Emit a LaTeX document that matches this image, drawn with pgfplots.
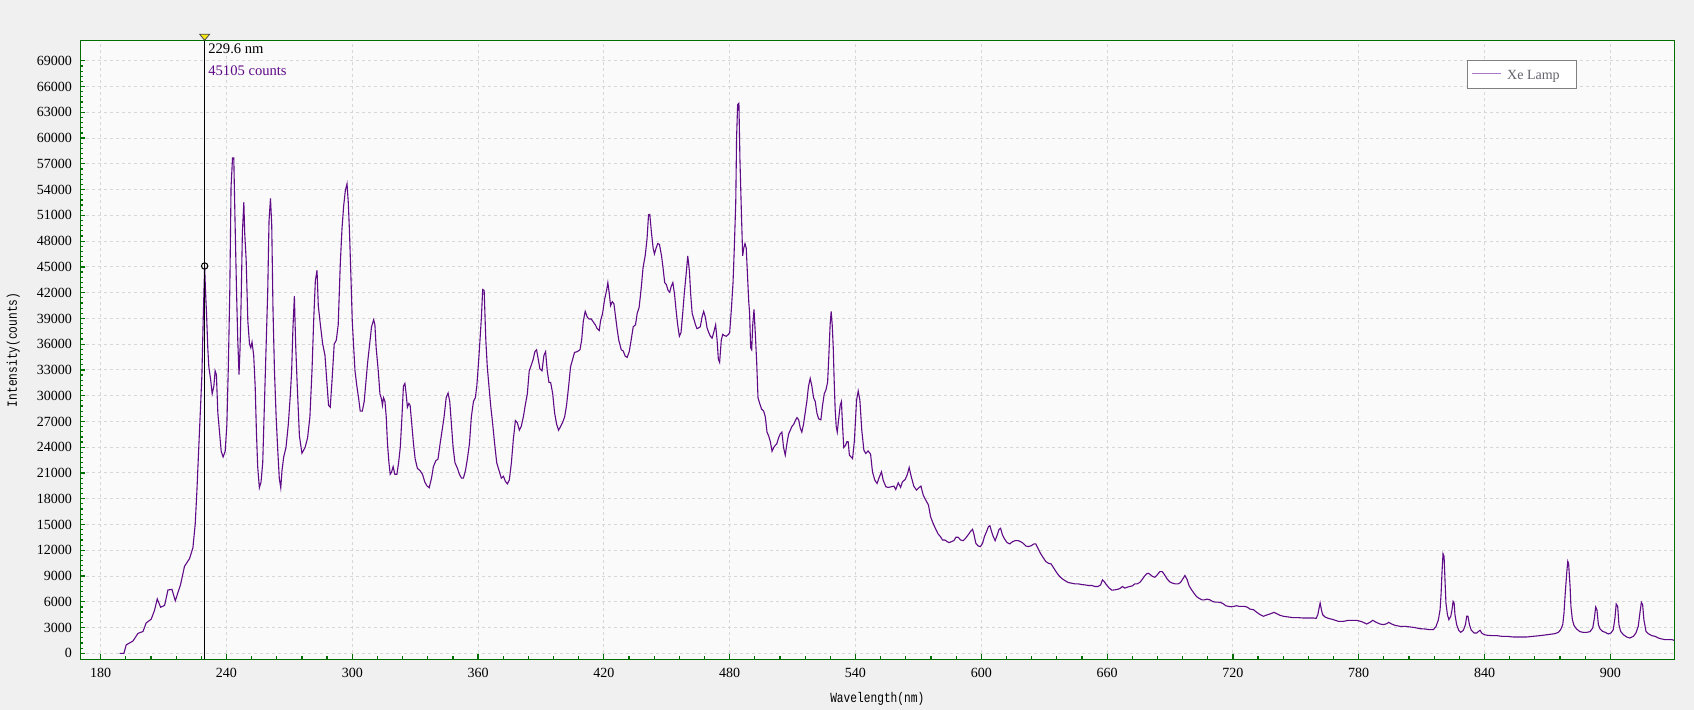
\documentclass[border=0pt]{standalone}
\usepackage{pgfplots}
\pgfplotsset{compat=1.18}
\usepackage{fontspec}
\setmainfont{Liberation Serif}
\newfontfamily\labelfont[FakeStretch=0.8]{Liberation Mono}
\definecolor{outerbg}{RGB}{240,240,240}
\definecolor{plotbg}{RGB}{250,250,250}
\definecolor{framegreen}{RGB}{0,110,0}
\definecolor{gridgray}{RGB}{215,215,215}
\definecolor{specpurple}{RGB}{95,10,135}
\definecolor{legpurple}{RGB}{170,120,200}
\definecolor{legtext}{RGB}{100,100,110}
\definecolor{cursoryellow}{RGB}{245,230,20}
\begin{document}
\begin{tikzpicture}
\path[use as bounding box, fill=outerbg] (-40.15pt,-25.25pt) rectangle (806.85pt,329.75pt);
\begin{axis}[
  at={(0,0)}, anchor=south west,
  scale only axis, width=797pt, height=309.6pt,
  xmin=170.3, xmax=930.5, ymin=-720, ymax=71390,
  clip=false,
  axis background/.style={fill=plotbg},
  axis line style={framegreen, line width=0.7pt},
  tick pos=left, tick align=inside,
  major tick length=2.5pt, minor tick length=1.5pt,
  every tick/.style={framegreen, line width=0.6pt},
  xtick={180,240,...,900}, ytick={0,3000,...,69000},
  minor x tick num=4, minor y tick num=4,
  grid=major,
  major grid style={gridgray, dash pattern=on 1.5pt off 1.5pt, line width=0.5pt},
  scaled ticks=false,
  ticklabel style={font=\fontsize{7}{8}\selectfont, /pgf/number format/assume math mode=true, /pgf/number format/1000 sep={}},
  yticklabel style={anchor=east, inner sep=0pt, xshift=-4pt},
  xticklabel style={anchor=north, inner sep=0pt, yshift=-4pt},
  xlabel={Wavelength(nm)}, ylabel={Intensity(counts)},
  label style={font=\labelfont\fontsize{7}{8}\selectfont, inner sep=0pt},
  xlabel style={at={(axis description cs:0.5,-0.0638)}, anchor=center},
  ylabel style={at={(axis description cs:-0.04203,0.5)}, anchor=center, rotate=0},
  legend style={at={(0.93915,0.96770)}, anchor=north east, draw=gray, fill=white, line width=0.5pt,
    font=\fontsize{7}{8}\selectfont, text=legtext, inner xsep=2.35pt, inner ysep=3pt,
    column sep=2.7pt, nodes={inner sep=0pt}},
  legend image code/.code={\path[draw=none, fill=none] (0pt,-1.5pt) rectangle (14.5pt,4.8pt); \draw[legpurple, line width=0.5pt] (0pt,1.6pt) -- (14.5pt,1.6pt);},
]
\addplot[specpurple, line width=0.55pt] coordinates {
(189.0,0) (191.1,0) (192.2,980) (195.4,1430) (197.8,2320) (200.2,2540) (201.7,3530) (204.1,3970) (205.7,5000) (207.0,6340) (208.6,5360) (210.5,5580) (212.1,7370) (214.0,7450) (215.6,6120) (218.1,7990) (220.0,10130) (222.4,11030) (224.0,12280) (225.1,15040) (225.9,18840) (226.8,23970) (227.6,28440) (228.3,32450) (228.9,38700) (229.6,45105) (230.0,42270) (230.5,39600) (231.1,35580) (231.6,33350) (232.4,32000) (233.2,30220) (234.0,31110) (234.6,32900) (235.2,32450) (235.9,27990) (236.7,25760) (237.5,23530) (238.4,22860) (239.4,23530) (240.2,26650) (240.9,33350) (241.6,42270) (242.2,54330) (242.9,57680) (243.5,57680) (244.1,50310) (244.8,42270) (245.4,36470) (246.0,32450) (246.5,35580) (247.0,40940) (247.6,48970) (248.3,52540) (248.7,48970) (249.4,45850) (250.2,38700) (251.0,36020) (251.6,35580) (252.2,36250) (253.0,34680) (253.7,31110) (254.3,25760) (254.9,21740) (255.7,19280) (256.5,19950) (257.3,22190) (258.1,28880) (258.9,35580) (259.7,42270) (260.3,50310) (261.0,52990) (261.6,49860) (262.2,40040) (262.9,32900) (263.7,27540) (264.4,23970) (265.2,20400) (265.9,19280) (266.5,21290) (267.3,22860) (268.4,23970) (269.5,26650) (270.5,30220) (271.1,32900) (271.7,37810) (272.4,41600) (273.0,36020) (273.7,31560) (274.8,25310) (276.0,23300) (277.5,23970) (278.7,25090) (279.8,27540) (280.8,32900) (281.6,38700) (282.4,43390) (283.2,44600) (283.8,40490) (284.8,38260) (285.9,36020) (287.0,34680) (287.9,31560) (288.7,28880) (289.5,28660) (290.3,31560) (291.4,36020) (292.4,36470) (293.3,38260) (294.3,45400) (295.1,49420) (295.9,52100) (296.7,53880) (297.5,54680) (298.1,52540) (298.7,48970) (299.4,43610) (300.0,38700) (300.6,36020) (301.3,32900) (302.2,31110) (303.0,29770) (303.8,28210) (304.8,28210) (305.7,29330) (306.5,31560) (307.3,33790) (308.3,36020) (309.2,38030) (310.2,38840) (310.8,38260) (311.4,35580) (312.4,32900) (313.2,30220) (314.0,29550) (314.4,28880) (314.9,29770) (315.6,29330) (316.2,27540) (316.8,24420) (317.5,22190) (318.1,20850) (318.7,21070) (319.5,21740) (320.3,20850) (321.3,20850) (322.1,22190) (322.9,23970) (323.7,27540) (324.4,31110) (325.1,31430) (325.7,30220) (326.3,28660) (327.0,29100) (327.6,28880) (328.4,26650) (329.2,24420) (330.0,22630) (331.1,21520) (332.3,21290) (333.5,20850) (334.6,19950) (335.6,19510) (336.7,19280) (337.8,20400) (338.7,21740) (339.8,22410) (340.9,22630) (341.9,24420) (343.0,26200) (343.8,27540) (344.8,29770) (345.7,30310) (346.5,29330) (347.3,26650) (348.1,23970) (349.0,22190) (350.2,21520) (351.1,20850) (352.1,20400) (353.0,20400) (354.0,21290) (354.9,22630) (355.9,24420) (356.8,27540) (357.8,29330) (358.7,29770) (359.4,31110) (360.2,33790) (360.8,36020) (361.6,39150) (362.2,42360) (362.9,42270) (363.7,36470) (364.4,33350) (365.2,31110) (366.0,28880) (367.0,26650) (367.9,24420) (368.9,22190) (370.0,21290) (371.1,20400) (372.1,20620) (373.0,20040) (374.0,19730) (374.9,20180) (375.9,22190) (376.8,24860) (377.8,27100) (378.7,26870) (379.7,25980) (380.6,26430) (381.6,27540) (382.5,28880) (383.5,30220) (384.4,32900) (385.4,33570) (386.3,34240) (387.1,35130) (387.9,35350) (388.7,34240) (389.5,33120) (390.5,32900) (391.4,34680) (392.2,35130) (393.0,32900) (393.8,31560)
(394.6,31560) (395.6,30220) (396.5,27990) (397.5,26650) (398.4,25980) (399.4,26430) (400.3,26870) (401.3,27540) (402.2,28880) (403.2,31110) (404.1,33350) (405.1,34240) (406.0,35040) (407.3,35130) (408.6,35350) (409.4,36470) (410.2,38700) (411.1,39820) (412.1,39150) (413.0,38930) (414.0,38930) (414.9,38610) (415.9,38260) (416.8,37810) (417.8,37590) (418.4,38700) (419.4,39600) (420.3,41160) (421.3,42270) (421.9,43170) (422.5,42050) (423.2,40490) (424.0,40940) (424.8,40710) (425.6,39150) (426.3,37810) (427.1,36470) (428.3,35350) (429.2,35220) (430.2,34600) (431.1,34460) (432.1,35130) (433.0,36470) (434.0,38030) (435.1,38260) (435.9,39600) (436.8,40260) (437.8,42500) (438.7,44950) (439.7,46290) (440.6,48300) (441.3,51070) (441.9,51110) (442.7,48970) (443.5,47180) (444.1,46510) (444.9,47180) (445.7,47720) (446.5,47630) (447.5,46290) (448.3,44730) (449.0,43170) (449.8,42940) (450.6,42270) (451.4,42050) (452.1,42720) (452.9,43170) (453.7,41830) (454.4,40040) (455.2,38260) (456.0,36920) (456.8,37360) (457.6,39600) (458.4,42050) (459.2,44060) (460.0,46290) (460.8,44510) (461.4,41830) (462.1,39600) (462.9,38930) (463.7,38260) (464.4,37810) (465.2,37900) (466.0,38030) (466.8,39150) (467.6,39820) (468.4,39150) (469.2,37900) (470.0,37360) (470.8,36920) (471.6,36700) (472.4,37360) (473.3,38260) (474.0,36470) (474.6,34240) (475.2,33880) (476.0,36470) (476.7,37140) (477.5,37000) (478.4,36920) (479.4,37140) (480.0,37360) (480.8,40040) (481.6,43170) (482.2,47180) (482.9,52540) (483.3,60130) (483.8,63920) (484.4,64060) (484.9,57450) (485.6,51200) (486.2,46290) (486.7,47180) (487.3,47720) (487.9,47180) (488.4,44510) (489.1,40940) (489.5,39600) (490.0,35580) (490.5,35350) (491.0,38260) (491.6,40040) (492.2,37360) (492.9,33790) (493.5,29770) (494.3,29100) (495.2,28440) (496.2,28210) (497.0,27540) (497.8,25760) (498.6,25310) (499.4,24640) (500.2,23530) (501.0,23970) (501.7,24200) (502.5,24420) (503.3,25090) (504.1,25540) (504.9,25760) (505.7,23970) (506.5,23080) (507.3,24420) (508.1,25540) (508.9,25980) (509.7,26430) (510.5,26650) (511.3,27100) (512.1,27450) (512.9,27190) (513.7,26200) (514.4,25760) (515.2,26650) (516.0,27990) (516.8,29330) (517.6,31110) (518.4,32010) (519.2,31110) (520.0,29770) (520.8,29330) (521.6,27990) (522.4,27320) (523.5,27190) (524.3,28880) (525.1,30220) (525.9,30670) (526.7,31560) (527.3,34680) (527.9,38260) (528.4,39820) (528.9,38260) (529.4,35580) (529.8,32010) (530.3,28440) (530.8,26430) (531.3,25760) (531.9,27100) (532.7,28880) (533.3,29330) (533.8,26650) (534.4,23970) (535.2,24200) (535.9,24640) (536.5,24640) (537.1,23080)
(538.6,22680) (539.5,24810) (540.5,29460) (541.3,30540) (542.1,29460) (543.0,25970) (544.0,23650) (544.9,23270) (546.0,23570) (547.2,23190) (548.1,21140) (549.2,20170) (550.3,19780) (551.3,20480) (552.4,21140) (553.2,20170) (554.5,19390) (555.7,19320) (557.0,19390) (558.3,19470) (559.2,19080) (560.4,19860) (561.5,19320) (562.4,19970) (563.7,20250) (564.6,20750) (565.6,21640) (566.6,20560) (567.8,19470) (569.1,19010) (570.4,19320) (571.2,19470) (572.3,18430) (573.5,17850) (574.8,17270) (575.8,15910) (577.0,15140) (578.3,14440) (579.4,13900) (580.5,13590) (581.5,13200) (582.6,13200) (583.7,13010) (584.7,12890) (585.8,13010) (586.9,13120) (587.9,13510) (589.0,13510) (590.1,13200) (591.4,13120) (592.6,13430) (593.7,13780) (594.8,14170) (595.8,14440) (596.4,13970) (597.4,12810) (598.5,12500) (599.6,12430) (600.6,12810) (601.5,13590) (602.5,14170) (603.4,14750) (604.1,14860) (604.9,14170) (605.7,13590) (606.6,13120) (607.6,13780) (608.5,14440) (609.2,14560) (610.1,13780) (611.2,13280) (612.3,12890) (613.6,12740) (614.9,13010) (616.2,13120) (617.6,13120) (618.7,13010) (620.0,12810) (621.2,12500) (622.5,12430) (623.9,12540) (625.1,12740) (626.0,12740) (627.0,12230) (628.2,11650) (629.5,11150) (630.8,10680) (632.0,10490) (633.3,10410) (634.6,9910) (635.9,9410) (637.1,9020) (638.4,8710) (639.8,8480) (641.4,8250) (643.0,8170) (644.6,8090) (646.2,8090) (647.8,8010) (649.4,7970) (651.0,7900) (652.6,7900) (654.2,7780) (655.7,7780) (656.9,7970) (657.8,8560) (658.6,8360) (659.7,7970) (661.0,7590) (662.3,7350) (663.7,7390) (665.3,7470) (666.4,7590) (667.3,7780) (668.5,7590) (669.6,7700) (670.8,7780) (672.1,7860) (673.2,8090) (674.3,8090) (675.6,8250) (676.6,8560) (677.7,8940) (678.8,9250) (679.7,9330) (680.7,9140) (681.7,8940) (682.8,8860) (683.9,9140) (685.2,9520) (686.3,9520) (687.4,9140) (688.7,8630) (689.9,8320) (691.2,8170) (692.5,8090) (693.9,8090) (695.0,8250) (696.0,8630) (697.1,9060) (698.2,8560) (699.1,7860) (700.3,7390) (701.4,7010) (702.6,6620) (703.9,6390) (705.2,6230) (706.5,6230) (707.7,6310) (709.0,6230) (710.3,6040) (711.5,5960) (712.8,5960) (714.1,5920) (715.4,5770) (716.6,5540) (717.9,5460) (719.2,5420) (720.4,5460) (721.7,5540) (723.0,5460) (724.2,5460) (725.5,5460) (726.8,5380) (728.1,5150)
(729.8,5080) (731.4,4770) (733.0,4500) (734.5,4310) (736.1,4460) (737.7,4580) (739.6,4770) (740.9,4620) (742.5,4420) (744.1,4310) (746.5,4230) (748.8,4150) (751.2,4150) (753.6,4110) (756.0,4110) (758.4,4110) (759.7,4070) (760.5,4500) (761.1,5280) (761.6,5860) (762.2,5080) (762.8,4500) (763.9,4230) (765.5,4070) (767.9,3920) (770.3,3720) (772.7,3720) (775.1,3840) (777.5,3840) (779.0,3840) (781.4,3690) (783.8,3410) (785.4,3610) (786.7,3840) (788.3,3610) (790.2,3410) (791.8,3340) (793.4,3450) (794.3,3610) (795.7,3410) (797.3,3260) (799.7,3140) (802.1,3140) (804.5,3070) (806.9,2990) (809.2,2870) (811.6,2830) (814.0,2750) (815.6,2750) (816.9,3140) (818.0,3920) (818.8,5080) (819.3,7020) (819.7,9350) (820.2,11600) (820.7,11290) (821.2,8190) (821.6,5860) (822.3,4500) (823.0,3920) (823.9,4310) (824.5,5080) (825.0,6050) (825.5,5860) (825.9,4500) (826.7,3340) (827.7,2680) (828.6,2440) (829.9,2680) (830.9,3340) (831.5,4310) (832.1,4310) (832.8,3340) (833.7,2680) (835.0,2370) (836.3,2370) (837.2,2560) (837.9,2680) (838.6,2370) (839.8,2170) (841.3,2100) (843.4,2060) (845.8,2060) (848.2,1980) (850.6,1980) (853.7,1900) (856.9,1900) (860.1,1900) (863.3,1980) (866.5,2060) (868.8,2130) (871.2,2210) (873.6,2290) (875.2,2440) (876.3,2750) (877.3,3340) (877.9,4690) (878.5,7020) (879.2,9350) (879.7,10710) (880.1,10440) (880.8,7800) (881.2,5470) (881.9,3920) (882.7,3220) (883.9,2830) (885.5,2520) (887.1,2440) (888.7,2440) (890.3,2520) (891.6,2950) (892.4,4110) (893.0,5390) (893.6,5080) (894.3,3340) (895.1,2830) (896.3,2560) (897.6,2440) (899.0,2250) (900.3,2370) (901.4,2750) (902.2,4110) (902.8,5740) (903.5,5470) (904.1,3340) (904.9,2560) (906.2,2170) (907.8,1900) (909.3,1780) (911.0,1980) (912.2,2370) (913.3,3140) (914.1,4690) (914.8,5940) (915.4,5660) (916.0,3920) (917.0,2560) (918.1,2290) (919.7,2060) (921.3,1980) (922.9,1780) (924.5,1670) (926.1,1590) (927.7,1590) (929.3,1590) (930.5,1510)
};
\addlegendentry{Xe Lamp\hspace*{6.2pt}}
\addplot[black, line width=0.6pt, forget plot] coordinates {(229.6,-720) (229.6,71390)};
\addplot[only marks, mark=o, mark size=1.6pt, mark options={black, line width=0.5pt}, forget plot] coordinates {(229.6,45105)};
\addplot[only marks, mark=triangle*, mark size=2.9pt, mark options={rotate=180, yscale=0.7, fill=cursoryellow, draw=black!70, line width=0.4pt}, forget plot] coordinates {(229.6,71863)};
\node[anchor=west, inner sep=0pt, font=\fontsize{7.3}{8}\selectfont] at (axis cs:231.2,70400) {229.6 nm};
\node[anchor=west, inner sep=0pt, font=\fontsize{7.3}{8}\selectfont, text=specpurple] at (axis cs:231.2,67840) {45105 counts};
\end{axis}
\end{tikzpicture}
\end{document}
